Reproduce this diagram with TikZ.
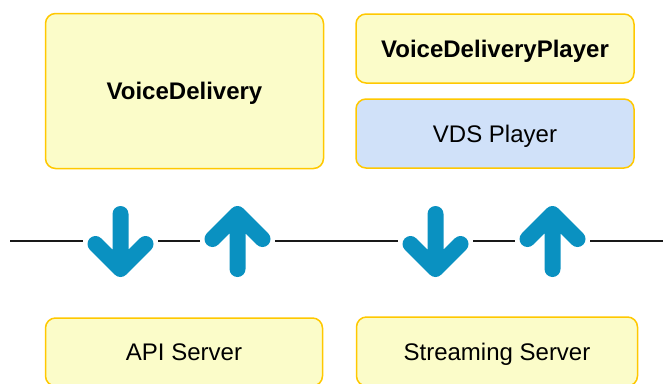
\documentclass[tikz,border=0pt]{standalone}
\usepackage{fontspec}
\setmainfont{Liberation Sans}
\definecolor{boxfill}{HTML}{FBFCC9}
\definecolor{boxline}{HTML}{FFC800}
\definecolor{bluefill}{HTML}{D0E1F9}
\definecolor{arrowblue}{HTML}{0A91C1}
\begin{document}
\begin{tikzpicture}[x=1pt,y=-1pt,
  comp/.style={draw=boxline, line width=1.5pt, fill=boxfill, rounded corners=10pt,
    inner sep=0pt, text height=17.2pt, text depth=0pt,
    font=\fontsize{24}{28}\selectfont},
  bold/.style={font=\fontsize{24}{28}\selectfont\bfseries},
  hub/.style={inner sep=0pt, minimum width=75pt, minimum height=75pt},
  wire/.style={line width=2pt, draw=black!90},
  flow/.style={line width=16pt, draw=arrowblue, line cap=round, line join=round}]

\useasboundingbox (0,0) rectangle (663,383);
\clip (0,0) rectangle (663,383);

% client side components
\node[comp, bold, minimum width=278pt, minimum height=155pt] (vd) at (184.5,91) {VoiceDelivery};
\node[comp, bold, minimum width=278pt, minimum height=69pt] (vdp) at (495,48.5) {VoiceDeliveryPlayer};
\node[comp, fill=bluefill, minimum width=278pt, minimum height=69pt] (vds) at (495,133.5) {VDS Player};

% server side components
\node[comp, minimum width=277pt, minimum height=68pt] (api) at (184,352) {API Server};
\node[comp, minimum width=281pt, minimum height=69pt] (stream) at (497,351.5) {Streaming Server};

% transfer points on the boundary line
\node[hub] (d1) at (120.5,241) {};
\node[hub] (u1) at (237.5,241) {};
\node[hub] (d2) at (435.5,241) {};
\node[hub] (u2) at (552.5,241) {};
\coordinate (wl) at (10,241);
\coordinate (wr) at (663,241);

\draw[wire] (wl) -- (d1) (d1) -- (u1) (u1) -- (d2) (d2) -- (u2) (u2) -- (wr);

% downward arrows
\foreach \h in {d1,d2}{
  \begin{scope}[shift={(\h.center)}]
    \draw[flow] (0,-27) -- (0,28) (-25,3) -- (0,28) -- (25,3);
  \end{scope}
}
% upward arrows
\foreach \h in {u1,u2}{
  \begin{scope}[shift={(\h.center)}]
    \draw[flow] (0,28) -- (0,-27) (-25,-2) -- (0,-27) -- (25,-2);
  \end{scope}
}
\end{tikzpicture}
\end{document}
